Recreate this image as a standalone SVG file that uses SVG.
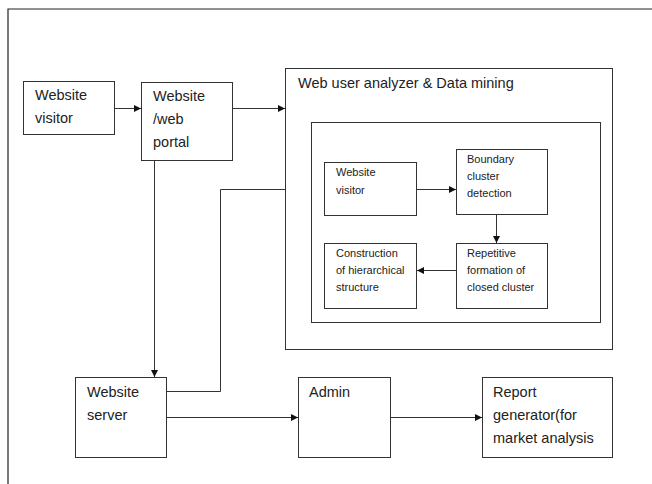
<svg xmlns="http://www.w3.org/2000/svg" width="652" height="484" viewBox="0 0 652 484">
<style>
.box{fill:#fff;stroke:#333;stroke-width:1}
.frame{fill:none;stroke:#222;stroke-width:1.2}
.t{font-family:"Liberation Sans",Arial,sans-serif;font-size:14.5px;fill:#222}
.s{font-family:"Liberation Sans",Arial,sans-serif;font-size:11px;fill:#222}
.c{fill:none;stroke:#333;stroke-width:1}
</style>
<defs>
<marker id="ah" markerUnits="userSpaceOnUse" markerWidth="8" markerHeight="8" refX="7" refY="3.5" orient="auto">
<path d="M0,0 L7,3.5 L0,7 z" fill="#111"/>
</marker>
</defs>
<rect width="652" height="484" fill="#fff"/>
<path class="frame" d="M8,484 V9 H652"/>

<g id="analyzer">
<rect class="box" x="285.5" y="68.5" width="327" height="281"/>
<text class="t" x="298" y="88">Web user analyzer &amp; Data mining</text>
<rect class="box" x="311.5" y="122.5" width="289" height="200"/>
</g>
<g id="visitor">
<rect class="box" x="23.5" y="81.5" width="91" height="53"/>
<text class="t" x="35" y="100">Website</text>
<text class="t" x="35" y="123">visitor</text>
</g>
<g id="portal">
<rect class="box" x="141.5" y="82.5" width="91" height="78"/>
<text class="t" x="153" y="101">Website</text>
<text class="t" x="153" y="124">/web</text>
<text class="t" x="153" y="147">portal</text>
</g>
<g id="inner-visitor">
<rect class="box" x="324.5" y="162.5" width="92" height="53"/>
<text class="s" x="336" y="176">Website</text>
<text class="s" x="336" y="194">visitor</text>
</g>
<g id="boundary">
<rect class="box" x="456.5" y="149.5" width="91" height="65"/>
<text class="s" x="467" y="163">Boundary</text>
<text class="s" x="467" y="180">cluster</text>
<text class="s" x="467" y="197">detection</text>
</g>
<g id="repetitive">
<rect class="box" x="456.5" y="243.5" width="91" height="65"/>
<text class="s" x="467" y="257">Repetitive</text>
<text class="s" x="467" y="274">formation of</text>
<text class="s" x="467" y="291">closed cluster</text>
</g>
<g id="construction">
<rect class="box" x="324.5" y="243.5" width="92" height="65"/>
<text class="s" x="336" y="257">Construction</text>
<text class="s" x="336" y="274">of hierarchical</text>
<text class="s" x="336" y="291">structure</text>
</g>
<g id="server">
<rect class="box" x="75.5" y="377.5" width="91" height="80"/>
<text class="t" x="87" y="397">Website</text>
<text class="t" x="87" y="420">server</text>
</g>
<g id="admin">
<rect class="box" x="298.5" y="377.5" width="92" height="80"/>
<text class="t" x="309" y="397">Admin</text>
</g>
<g id="report">
<rect class="box" x="482.5" y="377.5" width="130" height="80"/>
<text class="t" x="493" y="397">Report</text>
<text class="t" x="493" y="420">generator(for</text>
<text class="t" x="493" y="443">market analysis</text>
</g>

<g id="connectors">
<path class="c" d="M115,108.5 H141" marker-end="url(#ah)"/>
<path class="c" d="M233,108.5 H285" marker-end="url(#ah)"/>
<path class="c" d="M154.5,161 V377" marker-end="url(#ah)"/>
<path class="c" d="M167,391.5 H220.5 V189.5 H285"/>
<path class="c" d="M167,417.5 H298" marker-end="url(#ah)"/>
<path class="c" d="M391,417.5 H482" marker-end="url(#ah)"/>
<path class="c" d="M417,189.5 H456" marker-end="url(#ah)"/>
<path class="c" d="M496.5,215 V243" marker-end="url(#ah)"/>
<path class="c" d="M456,270.5 H417" marker-end="url(#ah)"/>
</g>
</svg>
